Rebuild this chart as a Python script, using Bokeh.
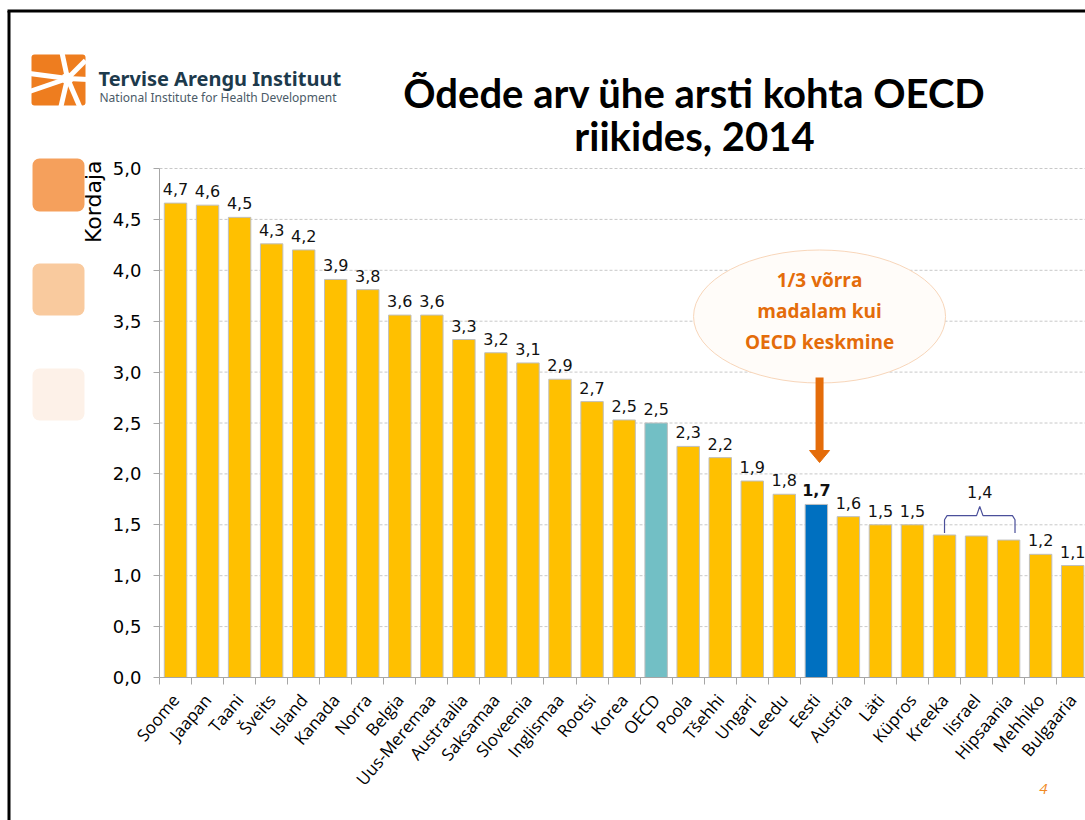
import math
from bokeh.plotting import figure
from bokeh.models import (ColumnDataSource, Range1d, FixedTicker, Label, BoxAnnotation,
                          Arrow, CustomJSTickFormatter)
from bokeh.core.properties import value
from bokeh.embed import file_html
from bokeh.resources import INLINE

# ---------------- data ----------------
countries = ["Soome", "Jaapan", "Taani", "Šveits", "Island", "Kanada", "Norra", "Belgia",
             "Uus-Meremaa", "Austraalia", "Saksamaa", "Sloveenia", "Inglismaa", "Rootsi",
             "Korea", "OECD", "Poola", "Tšehhi", "Ungari", "Leedu", "Eesti", "Austria",
             "Läti", "Küpros", "Kreeka", "Iisrael", "Hipsaania", "Mehhiko", "Bulgaaria"]
ratios = [4.66, 4.64, 4.52, 4.26, 4.20, 3.91, 3.81, 3.56, 3.56, 3.32, 3.19, 3.09, 2.93, 2.71,
          2.53, 2.50, 2.27, 2.16, 1.93, 1.80, 1.70, 1.58, 1.50, 1.50, 1.40, 1.39, 1.35, 1.21, 1.10]
oecd_name = "OECD"
estonia_name = "Eesti"
group_names = ["Kreeka", "Iisrael", "Hipsaania"]
y_ticks = [0.0, 0.5, 1.0, 1.5, 2.0, 2.5, 3.0, 3.5, 4.0, 4.5, 5.0]
title_lines = ["Õdede arv ühe arsti kohta OECD", "riikides, 2014"]
y_label = "Kordaja"
callout_lines = ["1/3 võrra", "madalam kui", "OECD keskmine"]
logo_lines = ["Tervise Arengu Instituut", "National Institute for Health Development"]
page_number = "4"


def fmt(v):
    return f"{v:.1f}".replace(".", ",")


# ---------------- geometry (frame covers the whole canvas) ----------------
W, H = 1085, 820
PX0, PY0 = 159, 677          # pixel position of the data origin
X_END, Y_TOP = 28.9, 5.0
XS = (W - PX0) / X_END       # px per category
YS = 509 / Y_TOP             # px per unit


def dx(px):
    return (px - PX0) / XS


def dy(py):
    return (PY0 - py) / YS


BAR_C = "#FFC000"
OECD_C = "#72BFC5"
EST_C = "#0070C0"
ORANGE = "#E46C0A"
AXIS_C = "#A6A6A6"

n = len(countries)
xs = [i + 0.5 for i in range(n)]
colors = [OECD_C if c == oecd_name else EST_C if c == estonia_name else BAR_C for c in countries]
bars = ColumnDataSource(dict(x=xs, top=ratios, color=colors, name=countries))

norm_idx = [i for i, c in enumerate(countries) if c not in group_names and c != estonia_name]
lab_src = ColumnDataSource(dict(x=[xs[i] for i in norm_idx], y=[ratios[i] for i in norm_idx],
                                text=[fmt(ratios[i]) for i in norm_idx]))
ei = countries.index(estonia_name)
est_src = ColumnDataSource(dict(x=[xs[ei]], y=[ratios[ei]], text=[fmt(ratios[ei])]))

p = figure(width=W, height=H, x_range=Range1d(dx(0), dx(W)), y_range=Range1d(dy(H), dy(0)),
           output_backend="svg", toolbar_location=None, title_location=None,
           min_border=0, min_border_left=0, min_border_right=0, min_border_top=0,
           min_border_bottom=0)
p.outline_line_color = None
p.background_fill_color = "white"
p.border_fill_color = "white"

# ---------------- axes (drawn at the data origin) ----------------
p.yaxis.fixed_location = 0
p.yaxis.bounds = (0, Y_TOP)
p.yaxis.ticker = FixedTicker(ticks=y_ticks)
p.yaxis.formatter = CustomJSTickFormatter(code="return tick.toFixed(1).replace('.', ',');")
p.yaxis.axis_line_color = AXIS_C
p.yaxis.major_tick_line_color = AXIS_C
p.yaxis.major_tick_out = 6
p.yaxis.major_tick_in = 0
p.yaxis.minor_tick_line_color = None
p.yaxis.major_label_text_font = "DejaVu Sans"
p.yaxis.major_label_text_font_size = "18px"
p.yaxis.major_label_text_color = "black"
p.yaxis.major_label_standoff = 12

p.xaxis.fixed_location = 0
p.xaxis.bounds = (0, X_END)
p.xaxis.ticker = FixedTicker(ticks=xs, minor_ticks=list(range(n)))
p.xaxis.formatter = CustomJSTickFormatter(args=dict(names=countries),
                                          code="return names[Math.floor(tick)] || '';")
p.xaxis.axis_line_color = AXIS_C
p.xaxis.major_tick_line_color = None
p.xaxis.major_tick_out = 0
p.xaxis.major_tick_in = 0
p.xaxis.minor_tick_line_color = AXIS_C
p.xaxis.minor_tick_out = 7
p.xaxis.minor_tick_in = 0
p.xaxis.major_label_orientation = math.radians(50)
p.xaxis.major_label_text_font = "Open Sans"
p.xaxis.major_label_text_font_size = "17px"
p.xaxis.major_label_text_color = "black"
p.xaxis.major_label_standoff = 12

p.xgrid.visible = False
p.ygrid.visible = False

# horizontal grid lines at the y ticks, limited to the plot area
gy = [t for t in y_ticks if t > 0]
p.segment(x0=[0] * len(gy), x1=[X_END] * len(gy), y0=gy, y1=gy,
          line_color="#C8C8C8", line_dash="3 2", line_width=1)

# ---------------- bars ----------------
p.vbar(x="x", top="top", width=0.7, source=bars, fill_color="color",
       line_color="#BFBFBF", line_width=1)

# value labels
p.text(x="x", y="y", text="text", source=lab_src, text_font=value("DejaVu Sans"),
       text_font_size="16px", text_align="center", text_baseline="bottom",
       y_offset=-8, text_color="#111111")
p.text(x="x", y="y", text="text", source=est_src, text_font=value("DejaVu Sans"),
       text_font_size="16px", text_font_style="bold", text_align="center",
       text_baseline="bottom", y_offset=-8, text_color="#111111")

# brace over the group of three similar countries
gi = [countries.index(g) for g in group_names]
gvals = [ratios[i] for i in gi]
L = xs[min(gi)]
R = xs[max(gi)] + 0.2
M = (L + R) / 2
b = max(gvals) + 0.02
h = b + 0.17
p.line(x=[L, L, L + 0.08, M - 0.1, M, M + 0.1, R - 0.08, R, R],
       y=[b, h - 0.04, h, h, h + 0.09, h, h, h - 0.04, b],
       line_color="#4A4F9A", line_width=1.2)
p.text(x=[M], y=[h + 0.17], text=[fmt(sum(gvals) / len(gvals))], text_font=value("DejaVu Sans"),
       text_font_size="16px", text_align="center", text_baseline="bottom",
       text_color="#111111")

# callout ellipse + arrow pointing at Estonia
cx = xs[ei] + 0.1
cy = dy(316)
p.ellipse(x=[cx], y=[cy], width=[252 / XS], height=[133 / YS], fill_color="#FFFCF9",
          line_color="#F8D6BA", line_width=1)
for line, py in zip(callout_lines, [279, 310, 341]):
    p.add_layout(Label(x=cx, y=dy(py), text=line, text_align="center", text_baseline="middle",
                       text_font="Open Sans", text_font_style="bold", text_font_size="19px",
                       text_color=ORANGE))
p.segment(x0=[cx], y0=[dy(377)], x1=[cx], y1=[dy(451)], line_color=ORANGE, line_width=8)
p.patch(x=[cx - 10 / XS, cx + 10 / XS, cx], y=[dy(450), dy(450), dy(462)],
        fill_color=ORANGE, line_color=ORANGE)

# ---------------- slide decorations ----------------
# slide frame (left and top edges visible)
p.segment(x0=[dx(8.5), dx(7)], y0=[dy(10.5), dy(10.5)], x1=[dx(8.5), dx(W + 5)],
          y1=[dy(H + 5), dy(10.5)], line_color="black", line_width=3)

for (t, bt, c) in [(158, 211, "#F5A05C"), (263, 315, "#F9CA9E"), (368, 420, "#FDF1E8")]:
    p.add_layout(BoxAnnotation(left=dx(32), right=dx(84), top=dy(t), bottom=dy(bt),
                               fill_color=c, fill_alpha=1, line_alpha=0, border_radius=7))

# logo
p.add_layout(BoxAnnotation(left=dx(31), right=dx(85), top=dy(54), bottom=dy(105),
                           fill_color="#EE7D1F", fill_alpha=1, line_alpha=0, border_radius=3))
hub = (67, 78)
for ex, ey in [(61, 50), (85, 60), (88, 79), (80, 108), (60, 108), (29, 91), (29, 73)]:
    p.add_layout(Arrow(end=None, x_start=dx(hub[0]), y_start=dy(hub[1]), x_end=dx(ex),
                       y_end=dy(ey), line_color="white", line_width=5))
p.add_layout(BoxAnnotation(left=dx(61), right=dx(73), top=dy(72), bottom=dy(84),
                           fill_color="white", fill_alpha=1, line_alpha=0, border_radius=6))
p.add_layout(Label(x=dx(98), y=dy(78), text=logo_lines[0], text_font="Noto Sans",
                   text_font_style="bold", text_font_size="20px", text_color="#1D3A4C",
                   text_baseline="alphabetic"))
p.add_layout(Label(x=dx(99), y=dy(97), text=logo_lines[1], text_font="Noto Sans",
                   text_font_size="12px", text_color="#4B5B68", text_baseline="alphabetic"))

# title
for line, py in zip(title_lines, [92, 135]):
    p.add_layout(Label(x=dx(694), y=dy(py), text=line, text_align="center",
                       text_baseline="alphabetic", text_font="Lato", text_font_style="bold",
                       text_font_size="40px", text_color="black"))

# y-axis label
p.add_layout(Label(x=dx(93), y=dy(160), text=y_label, angle=math.pi / 2, text_align="right",
                   text_baseline="middle", text_font="DejaVu Sans", text_font_size="22px",
                   text_color="black"))

# page number
p.add_layout(Label(x=dx(1043), y=dy(788), text=page_number, text_align="center",
                   text_baseline="middle", text_font="Open Sans", text_font_style="italic",
                   text_font_size="15px", text_color="#F08A24"))

open("out.html", "w").write(file_html(p, INLINE))
